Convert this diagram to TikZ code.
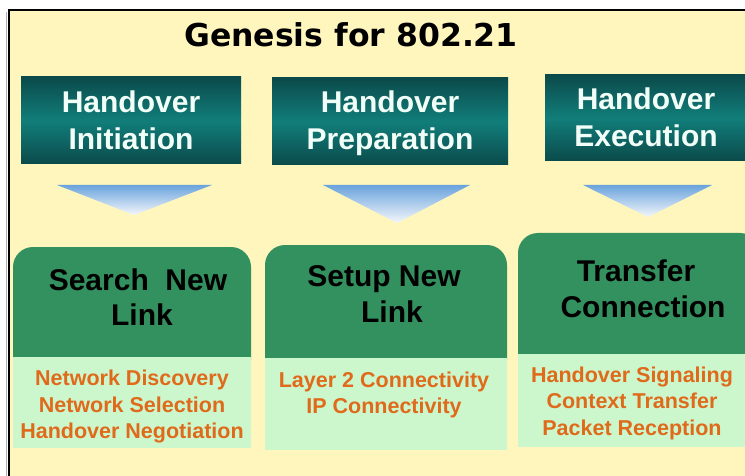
\documentclass[tikz,border=0pt]{standalone}
\usepackage{fontspec}
\setmainfont{Liberation Sans}
\newfontfamily\titlefont{DejaVu Sans}
\definecolor{bgyellow}{HTML}{FFF6BD}
\definecolor{tealdark}{HTML}{0B4A4B}
\definecolor{tealmid}{HTML}{117E7A}
\definecolor{hdrgreen}{HTML}{33915F}
\definecolor{lightgreen}{HTML}{CCF7CC}
\definecolor{orangetxt}{HTML}{E06A1B}
\definecolor{arrowtop}{HTML}{6AA3DD}
\definecolor{arrowbot}{HTML}{F4F7FB}
\definecolor{whitetxt}{HTML}{F2FFF9}
\begin{document}
\begin{tikzpicture}[x=1pt,y=-1pt,
  phasebox/.style={top color=tealdark, bottom color=tealdark, middle color=tealmid, draw=none, inner sep=0, rectangle},
  phasetxt/.style={font=\fontsize{30}{36}\selectfont\bfseries, text=whitetxt, anchor=base, inner sep=0},
  steptxt/.style={font=\fontsize{30}{36}\selectfont\bfseries, text=black, anchor=base, inner sep=0},
  itemtxt/.style={font=\fontsize{21.5}{26}\selectfont\bfseries, text=orangetxt, anchor=base, inner sep=0},
  arrowshade/.style={top color=arrowtop, bottom color=arrowbot}
]
\useasboundingbox (0,0) rectangle (745,476);
% background and frame
\fill[white] (0,0) rectangle (745,476);
\fill[bgyellow] (9,10) rectangle (745,476);
\draw[black!30, line width=1.5] (6.5,12) -- (6.5,476);
\draw[black, line width=2.2] (9,476) -- (9,10) -- (745,10);

% title
\node[font=\titlefont\fontsize{31.5}{36}\selectfont\bfseries, anchor=base, inner sep=0] (title) at (351,47) {Genesis for 802.21};

% phase boxes
\node[phasebox, minimum width=220pt, minimum height=87pt] (p1) at (131,120.5) {};
\node[phasebox, minimum width=236pt, minimum height=87pt] (p2) at (390,121.5) {};
\node[phasebox, minimum width=202pt, minimum height=86pt] (p3) at (646,118) {};
\node[phasetxt] (p1a) at (131,113) {Handover};
\node[phasetxt] (p1b) at (131,150) {Initiation};
\node[phasetxt] (p2a) at (390,113) {Handover};
\node[phasetxt] (p2b) at (390,150) {Preparation};
\node[phasetxt] (p3a) at (646,110) {Handover};
\node[phasetxt] (p3b) at (646,147) {Execution};

% arrows
\shade[arrowshade] (57,185) -- (212,185) -- (134,215) -- cycle;
\shade[arrowshade] (323,185) -- (470,185) -- (397,223) -- cycle;
\shade[arrowshade] (583,185) -- (712,185) -- (648,217) -- cycle;

% step boxes
\fill[hdrgreen, rounded corners=20] (13,247) rectangle (251,380);
\fill[lightgreen] (13,357) rectangle (251,448);
\fill[hdrgreen, rounded corners=20] (265,245) rectangle (507,380);
\fill[lightgreen] (265,358) rectangle (507,450);
\fill[hdrgreen, rounded corners=20] (518,233) rectangle (760,380);
\fill[lightgreen] (518,354) rectangle (760,447);

\node[steptxt] (s1a) at (138,290) {Search\ \ New};
\node[steptxt] (s1b) at (142,325) {Link};
\node[steptxt] (s2a) at (384,286) {Setup New};
\node[steptxt] (s2b) at (392,322) {Link};
\node[steptxt] (s3a) at (636,281) {Transfer};
\node[steptxt] (s3b) at (643,317) {Connection};

\node[itemtxt] (i1a) at (132,385) {Network Discovery};
\node[itemtxt] (i1b) at (132,412) {Network Selection};
\node[itemtxt] (i1c) at (132,438) {Handover Negotiation};
\node[itemtxt] (i2a) at (384,387) {Layer 2 Connectivity};
\node[itemtxt] (i2b) at (384,413) {IP Connectivity};
\node[itemtxt] (i3a) at (632,382) {Handover Signaling};
\node[itemtxt] (i3b) at (632,408) {Context Transfer};
\node[itemtxt] (i3c) at (632,435) {Packet Reception};
\end{tikzpicture}
\end{document}
